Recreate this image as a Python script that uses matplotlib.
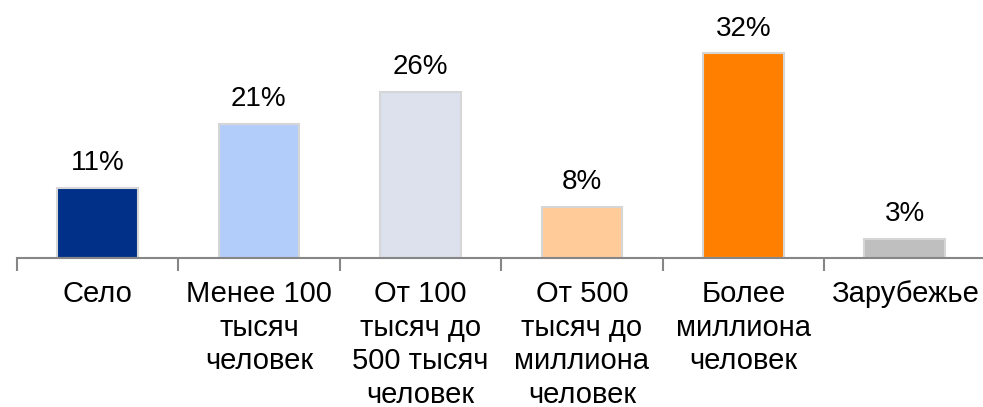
import matplotlib
matplotlib.use('Agg')
import matplotlib.pyplot as plt

# данные
categories = ['Село', 'Менее 100\nтысяч\nчеловек', 'От 100\nтысяч до\n500 тысяч\nчеловек',
              'От 500\nтысяч до\nмиллиона\nчеловек', 'Более\nмиллиона\nчеловек', 'Зарубежье']
shares = [11, 21, 26, 8, 32, 3]
bar_colors = ['#003087', '#B3CDFB', '#DDE1EE', '#FFCC99', '#FF8000', '#BFBFBF']

plt.rcParams['font.family'] = ['Liberation Sans', 'DejaVu Sans']

fig = plt.figure(figsize=(9.83, 4.07), dpi=100)
W, H = 983, 407
left, base, right = 16.7, 258, 985.6
ax = fig.add_axes([left / W, (H - base) / H, (right - left) / W, base / H])

x = list(range(len(categories)))
bars = ax.bar(x, shares, width=0.5, color=bar_colors, edgecolor='#D6D6D6', linewidth=1.5, zorder=2)

for xi, v in zip(x, shares):
    ax.annotate(f'{v}%', (xi, v), xytext=(0, 12.5), textcoords='offset points',
                ha='center', va='baseline', fontsize=20, color='black')

ax.set_xlim(-0.5, len(categories) - 0.5)
ax.set_ylim(0, 40.3)

# деления на границах категорий, подписи по центру
ax.set_xticks([i - 0.5 for i in range(len(categories) + 1)])
ax.set_xticklabels([])
ax.tick_params(axis='x', which='major', length=9, width=1.5, color='#868686', direction='out')
ax.set_xticks(x, minor=True)
ax.set_xticklabels(categories, minor=True, fontsize=21, multialignment='center', linespacing=1.25)
ax.tick_params(axis='x', which='minor', length=0, pad=16)

ax.set_yticks([])
for s in ['top', 'right', 'left']:
    ax.spines[s].set_visible(False)
ax.spines['bottom'].set_color('#868686')
ax.spines['bottom'].set_linewidth(1.5)
ax.patch.set_visible(False)

fig.savefig('out.png', dpi=100)
